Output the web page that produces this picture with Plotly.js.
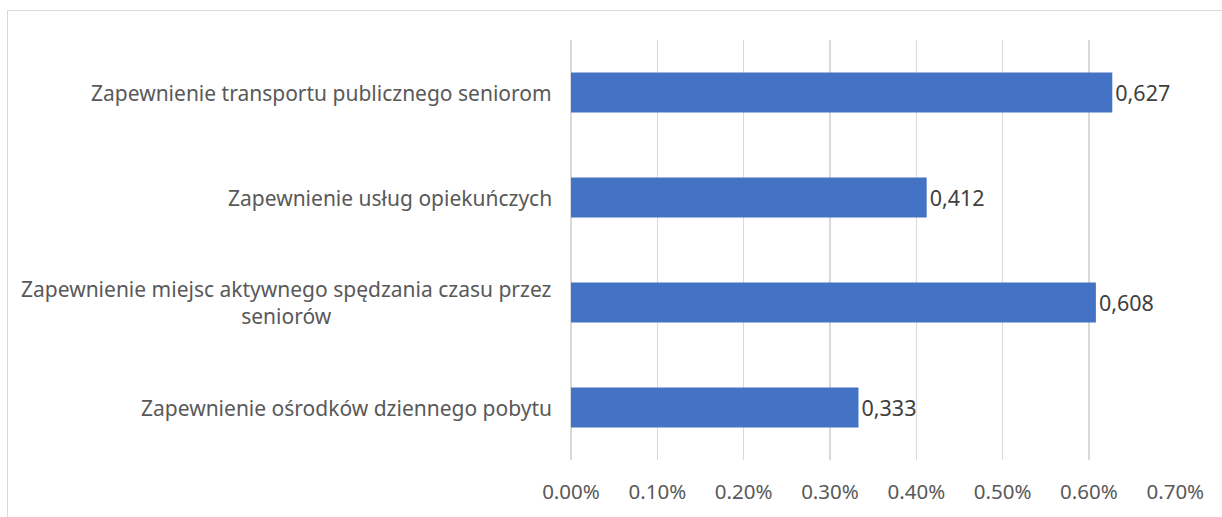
<!DOCTYPE html>
<html><head><meta charset="utf-8">
<script src="https://cdn.plot.ly/plotly-3.0.1.min.js"></script>
<style>
html,body{margin:0;padding:0;background:#fff;overflow:hidden}
#chart{position:absolute;left:0;top:0;width:1222px;height:517px}
#frame{position:absolute;left:7px;top:10px;width:1240px;height:540px;border:1px solid #d9d9d9;pointer-events:none}
</style></head>
<body>
<div id="chart"></div>
<div id="frame"></div>
<script>
const categories = [
  "Zapewnienie transportu publicznego seniorom",
  "Zapewnienie usług opiekuńczych",
  "Zapewnienie miejsc aktywnego spędzania czasu przez<br>seniorów",
  "Zapewnienie ośrodków dziennego pobytu"
];
const values = [0.627, 0.412, 0.608, 0.333];
const valueLabels = ["0,627", "0,412", "0,608", "0,333"];
const tickVals = [0, 0.1, 0.2, 0.3, 0.4, 0.5, 0.6, 0.7];
const tickLabels = ["0.00%", "0.10%", "0.20%", "0.30%", "0.40%", "0.50%", "0.60%", "0.70%"];

const FONT = "Noto Sans, Open Sans, sans-serif";

const trace = {
  type: "bar",
  orientation: "h",
  x: values,
  y: categories,
  text: valueLabels,
  textposition: "outside",
  textfont: {family: FONT, size: 21.5, color: "#404040"},
  cliponaxis: false,
  marker: {color: "#4472c4"},
  hoverinfo: "none"
};

const annotations = categories.map(c => ({
  x: 0, xref: "x", y: c, yref: "y",
  text: c, showarrow: false, xanchor: "right", yanchor: "middle",
  align: "center", xshift: -17,
  font: {family: FONT, size: 21, color: "#595959"}
}));

const layout = {
  width: 1222, height: 517,
  margin: {l: 571, r: 46, t: 40, b: 57},
  paper_bgcolor: "#fff", plot_bgcolor: "#fff",
  showlegend: false,
  bargap: 0.62,
  xaxis: {
    range: [0, 0.7008], tickvals: tickVals, ticktext: tickLabels,
    showgrid: true, gridcolor: "#d9d9d9", gridwidth: 1.5,
    zeroline: true, zerolinecolor: "#d9d9d9", zerolinewidth: 1.5,
    showline: false, ticks: "",
    ticklabelstandoff: 17,
    tickfont: {family: FONT, size: 20.5, color: "#595959"},
    fixedrange: true
  },
  yaxis: {
    autorange: "reversed", showticklabels: false, showgrid: false,
    zeroline: false, showline: false, ticks: "", fixedrange: true
  },
  annotations: annotations
};

Plotly.newPlot("chart", [trace], layout, {displayModeBar: false, staticPlot: true});
</script>
</body></html>
